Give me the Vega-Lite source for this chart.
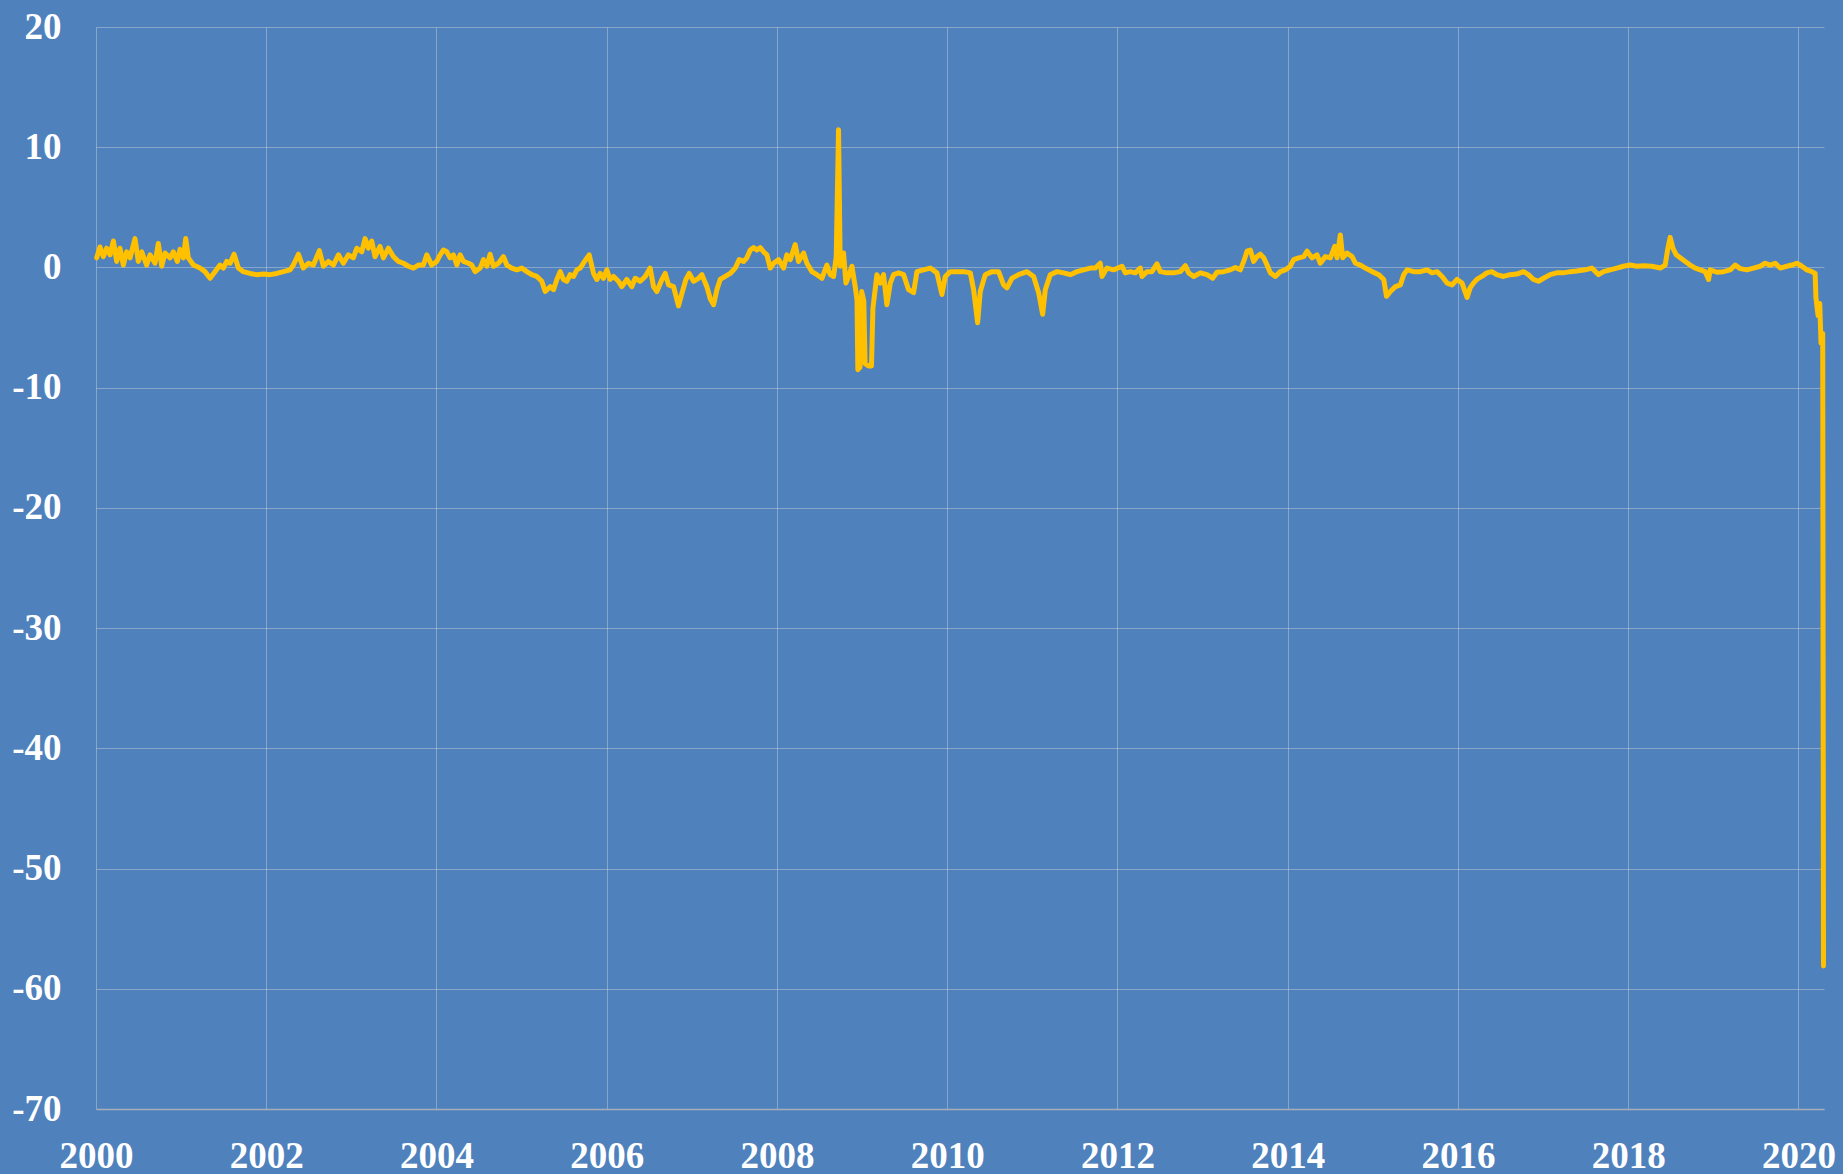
{
  "$schema": "https://vega.github.io/schema/vega-lite/v6.json",
  "autosize": "none",
  "width": 1728,
  "height": 1082,
  "padding": {"left": 96, "top": 27, "right": 19, "bottom": 65},
  "background": "#4F81BD",
  "config": {
    "view": {"stroke": null},
    "axis": {
      "labelFont": "Liberation Serif",
      "labelFontWeight": "bold",
      "labelFontSize": 37,
      "labelColor": "#FFFFFF",
      "gridColor": "#D9D9D9",
      "gridOpacity": 0.42,
      "gridWidth": 1,
      "ticks": false,
      "title": null
    }
  },
  "datasets": {
    "series": [
      {"t": 2000.008, "v": 0.8}, {"t": 2000.047, "v": 1.7}, {"t": 2000.086, "v": 0.9}, {"t": 2000.125, "v": 1.6},
      {"t": 2000.165, "v": 1.05}, {"t": 2000.204, "v": 2.2}, {"t": 2000.243, "v": 0.5}, {"t": 2000.282, "v": 1.6},
      {"t": 2000.321, "v": 0.2}, {"t": 2000.36, "v": 1.3}, {"t": 2000.4, "v": 0.8}, {"t": 2000.458, "v": 2.4},
      {"t": 2000.497, "v": 0.5}, {"t": 2000.537, "v": 1.3}, {"t": 2000.595, "v": 0.2}, {"t": 2000.635, "v": 1.05},
      {"t": 2000.693, "v": 0.35}, {"t": 2000.732, "v": 2.0}, {"t": 2000.772, "v": 0.1}, {"t": 2000.811, "v": 1.2},
      {"t": 2000.87, "v": 0.8}, {"t": 2000.909, "v": 1.3}, {"t": 2000.956, "v": 0.5}, {"t": 2000.987, "v": 1.5},
      {"t": 2001.026, "v": 0.8}, {"t": 2001.054, "v": 2.4}, {"t": 2001.085, "v": 0.8}, {"t": 2001.144, "v": 0.2},
      {"t": 2001.222, "v": -0.05}, {"t": 2001.281, "v": -0.35}, {"t": 2001.34, "v": -0.9}, {"t": 2001.398, "v": -0.35},
      {"t": 2001.457, "v": 0.2}, {"t": 2001.496, "v": -0.05}, {"t": 2001.535, "v": 0.5}, {"t": 2001.575, "v": 0.35},
      {"t": 2001.622, "v": 1.1}, {"t": 2001.673, "v": -0.05}, {"t": 2001.731, "v": -0.35}, {"t": 2001.81, "v": -0.5},
      {"t": 2001.888, "v": -0.6}, {"t": 2001.966, "v": -0.55}, {"t": 2002.045, "v": -0.6}, {"t": 2002.123, "v": -0.5},
      {"t": 2002.201, "v": -0.35}, {"t": 2002.28, "v": -0.2}, {"t": 2002.319, "v": 0.2}, {"t": 2002.378, "v": 1.1},
      {"t": 2002.436, "v": -0.05}, {"t": 2002.495, "v": 0.35}, {"t": 2002.554, "v": 0.2}, {"t": 2002.624, "v": 1.4},
      {"t": 2002.671, "v": 0.1}, {"t": 2002.73, "v": 0.5}, {"t": 2002.789, "v": 0.2}, {"t": 2002.848, "v": 1.05},
      {"t": 2002.906, "v": 0.35}, {"t": 2002.965, "v": 1.05}, {"t": 2003.024, "v": 0.8}, {"t": 2003.063, "v": 1.6},
      {"t": 2003.122, "v": 1.3}, {"t": 2003.161, "v": 2.4}, {"t": 2003.2, "v": 1.6}, {"t": 2003.239, "v": 2.2},
      {"t": 2003.278, "v": 0.9}, {"t": 2003.337, "v": 1.75}, {"t": 2003.376, "v": 0.8}, {"t": 2003.435, "v": 1.6},
      {"t": 2003.494, "v": 0.9}, {"t": 2003.553, "v": 0.5}, {"t": 2003.611, "v": 0.35}, {"t": 2003.67, "v": 0.1},
      {"t": 2003.729, "v": -0.05}, {"t": 2003.788, "v": 0.2}, {"t": 2003.846, "v": 0.2}, {"t": 2003.886, "v": 1.05},
      {"t": 2003.944, "v": 0.2}, {"t": 2004.003, "v": 0.5}, {"t": 2004.043, "v": 1.05}, {"t": 2004.082, "v": 1.45},
      {"t": 2004.121, "v": 1.3}, {"t": 2004.16, "v": 0.8}, {"t": 2004.199, "v": 1.05}, {"t": 2004.239, "v": 0.2},
      {"t": 2004.278, "v": 1.05}, {"t": 2004.317, "v": 0.5}, {"t": 2004.376, "v": 0.35}, {"t": 2004.415, "v": 0.2},
      {"t": 2004.454, "v": -0.35}, {"t": 2004.513, "v": -0.05}, {"t": 2004.552, "v": 0.65}, {"t": 2004.591, "v": 0.1},
      {"t": 2004.63, "v": 1.1}, {"t": 2004.669, "v": 0.1}, {"t": 2004.728, "v": 0.35}, {"t": 2004.787, "v": 0.9},
      {"t": 2004.826, "v": 0.2}, {"t": 2004.885, "v": -0.05}, {"t": 2004.944, "v": -0.2}, {"t": 2005.002, "v": -0.05},
      {"t": 2005.061, "v": -0.35}, {"t": 2005.12, "v": -0.6}, {"t": 2005.179, "v": -0.75}, {"t": 2005.237, "v": -1.15},
      {"t": 2005.277, "v": -2.0}, {"t": 2005.335, "v": -1.6}, {"t": 2005.375, "v": -1.85}, {"t": 2005.414, "v": -1.0},
      {"t": 2005.453, "v": -0.35}, {"t": 2005.492, "v": -1.0}, {"t": 2005.531, "v": -1.15}, {"t": 2005.57, "v": -0.6},
      {"t": 2005.61, "v": -0.75}, {"t": 2005.649, "v": -0.2}, {"t": 2005.688, "v": -0.05}, {"t": 2005.739, "v": 0.5},
      {"t": 2005.794, "v": 1.05}, {"t": 2005.845, "v": -0.5}, {"t": 2005.884, "v": -1.0}, {"t": 2005.923, "v": -0.5},
      {"t": 2005.962, "v": -0.9}, {"t": 2006.001, "v": -0.2}, {"t": 2006.04, "v": -1.0}, {"t": 2006.08, "v": -0.75},
      {"t": 2006.138, "v": -1.15}, {"t": 2006.177, "v": -1.6}, {"t": 2006.236, "v": -1.0}, {"t": 2006.295, "v": -1.6},
      {"t": 2006.334, "v": -0.9}, {"t": 2006.393, "v": -1.15}, {"t": 2006.452, "v": -0.75}, {"t": 2006.51, "v": -0.05},
      {"t": 2006.55, "v": -1.6}, {"t": 2006.589, "v": -2.0}, {"t": 2006.648, "v": -1.0}, {"t": 2006.687, "v": -0.5},
      {"t": 2006.726, "v": -1.45}, {"t": 2006.785, "v": -1.6}, {"t": 2006.843, "v": -3.2}, {"t": 2006.883, "v": -2.15},
      {"t": 2006.93, "v": -1.0}, {"t": 2006.969, "v": -0.5}, {"t": 2007.02, "v": -1.15}, {"t": 2007.078, "v": -0.9},
      {"t": 2007.118, "v": -0.6}, {"t": 2007.176, "v": -1.6}, {"t": 2007.216, "v": -2.6}, {"t": 2007.255, "v": -3.1},
      {"t": 2007.294, "v": -1.85}, {"t": 2007.333, "v": -1.0}, {"t": 2007.392, "v": -0.75}, {"t": 2007.451, "v": -0.5},
      {"t": 2007.51, "v": -0.05}, {"t": 2007.556, "v": 0.65}, {"t": 2007.607, "v": 0.5}, {"t": 2007.646, "v": 0.8},
      {"t": 2007.686, "v": 1.45}, {"t": 2007.725, "v": 1.65}, {"t": 2007.764, "v": 1.45}, {"t": 2007.803, "v": 1.65},
      {"t": 2007.842, "v": 1.3}, {"t": 2007.881, "v": 1.05}, {"t": 2007.921, "v": -0.05}, {"t": 2007.96, "v": 0.35},
      {"t": 2008.019, "v": 0.65}, {"t": 2008.077, "v": -0.05}, {"t": 2008.116, "v": 1.05}, {"t": 2008.156, "v": 0.65},
      {"t": 2008.214, "v": 1.9}, {"t": 2008.253, "v": 0.5}, {"t": 2008.312, "v": 1.2}, {"t": 2008.351, "v": 0.35},
      {"t": 2008.41, "v": -0.35}, {"t": 2008.469, "v": -0.6}, {"t": 2008.528, "v": -0.9}, {"t": 2008.586, "v": 0.2},
      {"t": 2008.626, "v": -0.6}, {"t": 2008.665, "v": -0.75}, {"t": 2008.696, "v": 0.9}, {"t": 2008.723, "v": 11.45},
      {"t": 2008.743, "v": 0.1}, {"t": 2008.782, "v": 1.2}, {"t": 2008.81, "v": -1.3}, {"t": 2008.841, "v": -0.75},
      {"t": 2008.88, "v": 0.1}, {"t": 2008.919, "v": -1.6}, {"t": 2008.94, "v": -2.7}, {"t": 2008.95, "v": -8.5},
      {"t": 2008.975, "v": -8.3}, {"t": 2008.995, "v": -2.0}, {"t": 2009.02, "v": -2.8}, {"t": 2009.035, "v": -8.0},
      {"t": 2009.076, "v": -8.2}, {"t": 2009.11, "v": -8.2}, {"t": 2009.127, "v": -3.4}, {"t": 2009.174, "v": -0.6},
      {"t": 2009.213, "v": -1.3}, {"t": 2009.252, "v": -0.6}, {"t": 2009.291, "v": -3.1}, {"t": 2009.331, "v": -1.3},
      {"t": 2009.37, "v": -0.6}, {"t": 2009.429, "v": -0.45}, {"t": 2009.487, "v": -0.6}, {"t": 2009.546, "v": -1.85},
      {"t": 2009.605, "v": -2.1}, {"t": 2009.644, "v": -0.35}, {"t": 2009.722, "v": -0.2}, {"t": 2009.801, "v": -0.05},
      {"t": 2009.879, "v": -0.45}, {"t": 2009.938, "v": -2.25}, {"t": 2009.977, "v": -0.75}, {"t": 2010.036, "v": -0.35},
      {"t": 2010.114, "v": -0.35}, {"t": 2010.192, "v": -0.35}, {"t": 2010.271, "v": -0.45}, {"t": 2010.31, "v": -1.85},
      {"t": 2010.357, "v": -4.6}, {"t": 2010.388, "v": -2.0}, {"t": 2010.447, "v": -0.6}, {"t": 2010.525, "v": -0.35},
      {"t": 2010.604, "v": -0.35}, {"t": 2010.662, "v": -1.45}, {"t": 2010.702, "v": -1.7}, {"t": 2010.76, "v": -0.9},
      {"t": 2010.839, "v": -0.6}, {"t": 2010.937, "v": -0.35}, {"t": 2011.015, "v": -0.75}, {"t": 2011.074, "v": -2.1},
      {"t": 2011.121, "v": -3.9}, {"t": 2011.152, "v": -1.85}, {"t": 2011.211, "v": -0.6}, {"t": 2011.289, "v": -0.35},
      {"t": 2011.367, "v": -0.45}, {"t": 2011.446, "v": -0.6}, {"t": 2011.524, "v": -0.35}, {"t": 2011.602, "v": -0.2},
      {"t": 2011.681, "v": -0.05}, {"t": 2011.74, "v": -0.05}, {"t": 2011.798, "v": 0.35}, {"t": 2011.818, "v": -0.75},
      {"t": 2011.877, "v": -0.05}, {"t": 2011.955, "v": -0.2}, {"t": 2012.053, "v": 0.1}, {"t": 2012.092, "v": -0.45},
      {"t": 2012.151, "v": -0.35}, {"t": 2012.21, "v": -0.45}, {"t": 2012.268, "v": -0.05}, {"t": 2012.288, "v": -0.75},
      {"t": 2012.347, "v": -0.35}, {"t": 2012.405, "v": -0.35}, {"t": 2012.464, "v": 0.3}, {"t": 2012.503, "v": -0.35},
      {"t": 2012.582, "v": -0.45}, {"t": 2012.66, "v": -0.45}, {"t": 2012.738, "v": -0.35}, {"t": 2012.797, "v": 0.15},
      {"t": 2012.836, "v": -0.45}, {"t": 2012.895, "v": -0.75}, {"t": 2012.973, "v": -0.45}, {"t": 2013.052, "v": -0.6},
      {"t": 2013.118, "v": -0.9}, {"t": 2013.169, "v": -0.4}, {"t": 2013.248, "v": -0.35}, {"t": 2013.326, "v": -0.2},
      {"t": 2013.385, "v": 0.0}, {"t": 2013.443, "v": -0.2}, {"t": 2013.483, "v": 0.5}, {"t": 2013.522, "v": 1.35},
      {"t": 2013.561, "v": 1.45}, {"t": 2013.6, "v": 0.5}, {"t": 2013.639, "v": 0.9}, {"t": 2013.678, "v": 1.1},
      {"t": 2013.718, "v": 0.8}, {"t": 2013.757, "v": 0.2}, {"t": 2013.796, "v": -0.45}, {"t": 2013.855, "v": -0.75},
      {"t": 2013.913, "v": -0.35}, {"t": 2013.972, "v": -0.2}, {"t": 2014.031, "v": 0.1}, {"t": 2014.07, "v": 0.65},
      {"t": 2014.129, "v": 0.8}, {"t": 2014.188, "v": 0.9}, {"t": 2014.227, "v": 1.35}, {"t": 2014.285, "v": 0.8},
      {"t": 2014.344, "v": 1.05}, {"t": 2014.383, "v": 0.35}, {"t": 2014.442, "v": 0.9}, {"t": 2014.501, "v": 0.8},
      {"t": 2014.552, "v": 1.75}, {"t": 2014.579, "v": 0.8}, {"t": 2014.618, "v": 2.7}, {"t": 2014.646, "v": 0.8},
      {"t": 2014.697, "v": 1.2}, {"t": 2014.756, "v": 0.9}, {"t": 2014.795, "v": 0.35}, {"t": 2014.854, "v": 0.2},
      {"t": 2014.912, "v": -0.05}, {"t": 2014.991, "v": -0.35}, {"t": 2015.069, "v": -0.6}, {"t": 2015.128, "v": -1.0},
      {"t": 2015.16, "v": -2.4}, {"t": 2015.206, "v": -2.0}, {"t": 2015.265, "v": -1.6}, {"t": 2015.323, "v": -1.45},
      {"t": 2015.363, "v": -0.6}, {"t": 2015.402, "v": -0.2}, {"t": 2015.48, "v": -0.35}, {"t": 2015.558, "v": -0.35},
      {"t": 2015.637, "v": -0.2}, {"t": 2015.696, "v": -0.45}, {"t": 2015.754, "v": -0.35}, {"t": 2015.813, "v": -0.75},
      {"t": 2015.872, "v": -1.3}, {"t": 2015.931, "v": -1.45}, {"t": 2015.989, "v": -1.0}, {"t": 2016.048, "v": -1.3},
      {"t": 2016.107, "v": -2.5}, {"t": 2016.143, "v": -1.7}, {"t": 2016.182, "v": -1.3}, {"t": 2016.221, "v": -1.0},
      {"t": 2016.28, "v": -0.75}, {"t": 2016.339, "v": -0.45}, {"t": 2016.398, "v": -0.35}, {"t": 2016.456, "v": -0.6},
      {"t": 2016.535, "v": -0.75}, {"t": 2016.613, "v": -0.6}, {"t": 2016.691, "v": -0.55}, {"t": 2016.77, "v": -0.35},
      {"t": 2016.828, "v": -0.6}, {"t": 2016.887, "v": -1.0}, {"t": 2016.946, "v": -1.15}, {"t": 2017.005, "v": -0.9},
      {"t": 2017.083, "v": -0.6}, {"t": 2017.161, "v": -0.45}, {"t": 2017.24, "v": -0.45}, {"t": 2017.318, "v": -0.35},
      {"t": 2017.396, "v": -0.3}, {"t": 2017.494, "v": -0.2}, {"t": 2017.573, "v": -0.05}, {"t": 2017.651, "v": -0.6},
      {"t": 2017.71, "v": -0.35}, {"t": 2017.788, "v": -0.2}, {"t": 2017.866, "v": -0.05}, {"t": 2017.945, "v": 0.1},
      {"t": 2018.023, "v": 0.2}, {"t": 2018.102, "v": 0.1}, {"t": 2018.18, "v": 0.15}, {"t": 2018.278, "v": 0.1},
      {"t": 2018.376, "v": -0.05}, {"t": 2018.434, "v": 0.2}, {"t": 2018.466, "v": 1.6}, {"t": 2018.493, "v": 2.5},
      {"t": 2018.525, "v": 1.6}, {"t": 2018.564, "v": 1.05}, {"t": 2018.611, "v": 0.8}, {"t": 2018.67, "v": 0.5},
      {"t": 2018.728, "v": 0.2}, {"t": 2018.787, "v": -0.05}, {"t": 2018.846, "v": -0.2}, {"t": 2018.905, "v": -0.35},
      {"t": 2018.944, "v": -1.0}, {"t": 2018.963, "v": -0.2}, {"t": 2019.042, "v": -0.4}, {"t": 2019.12, "v": -0.35},
      {"t": 2019.198, "v": -0.2}, {"t": 2019.257, "v": 0.2}, {"t": 2019.316, "v": -0.1}, {"t": 2019.394, "v": -0.2},
      {"t": 2019.472, "v": -0.05}, {"t": 2019.551, "v": 0.1}, {"t": 2019.609, "v": 0.35}, {"t": 2019.668, "v": 0.2},
      {"t": 2019.727, "v": 0.35}, {"t": 2019.786, "v": -0.05}, {"t": 2019.864, "v": 0.1}, {"t": 2019.923, "v": 0.2},
      {"t": 2019.982, "v": 0.35}, {"t": 2020.04, "v": 0.1}, {"t": 2020.099, "v": -0.2}, {"t": 2020.158, "v": -0.35},
      {"t": 2020.196, "v": -0.5}, {"t": 2020.205, "v": -2.5}, {"t": 2020.23, "v": -4.0}, {"t": 2020.25, "v": -3.0},
      {"t": 2020.265, "v": -6.3}, {"t": 2020.285, "v": -5.5}, {"t": 2020.294, "v": -58.1}
    ]
  },
  "layer": [
    {
      "mark": {"type": "rule", "color": "#FFFFFF", "strokeWidth": 2},
      "encoding": {"y": {"datum": 0, "type": "quantitative"}}
    },
    {
      "data": {"name": "series"},
      "mark": {"type": "line", "color": "#FFC000", "strokeWidth": 5, "strokeJoin": "round", "strokeCap": "round"},
      "encoding": {
        "x": {
          "field": "t",
          "type": "quantitative",
          "scale": {"domain": [2000, 2020.3], "nice": false, "zero": false},
          "axis": {
            "values": [2000, 2002, 2004, 2006, 2008, 2010, 2012, 2014, 2016, 2018, 2020],
            "labelExpr": "toString(datum.value)",
            "labelPadding": 29,
            "labelFlush": false,
            "domain": true,
            "domainColor": "#A6AEB8",
            "domainWidth": 1.5,
            "grid": true
          }
        },
        "y": {
          "field": "v",
          "type": "quantitative",
          "scale": {"domain": [-70, 20], "nice": false, "zero": false},
          "axis": {
            "values": [-70, -60, -50, -40, -30, -20, -10, 0, 10, 20],
            "labelExpr": "toString(datum.value)",
            "labelPadding": 35,
            "domain": false,
            "grid": true
          }
        }
      }
    }
  ]
}
